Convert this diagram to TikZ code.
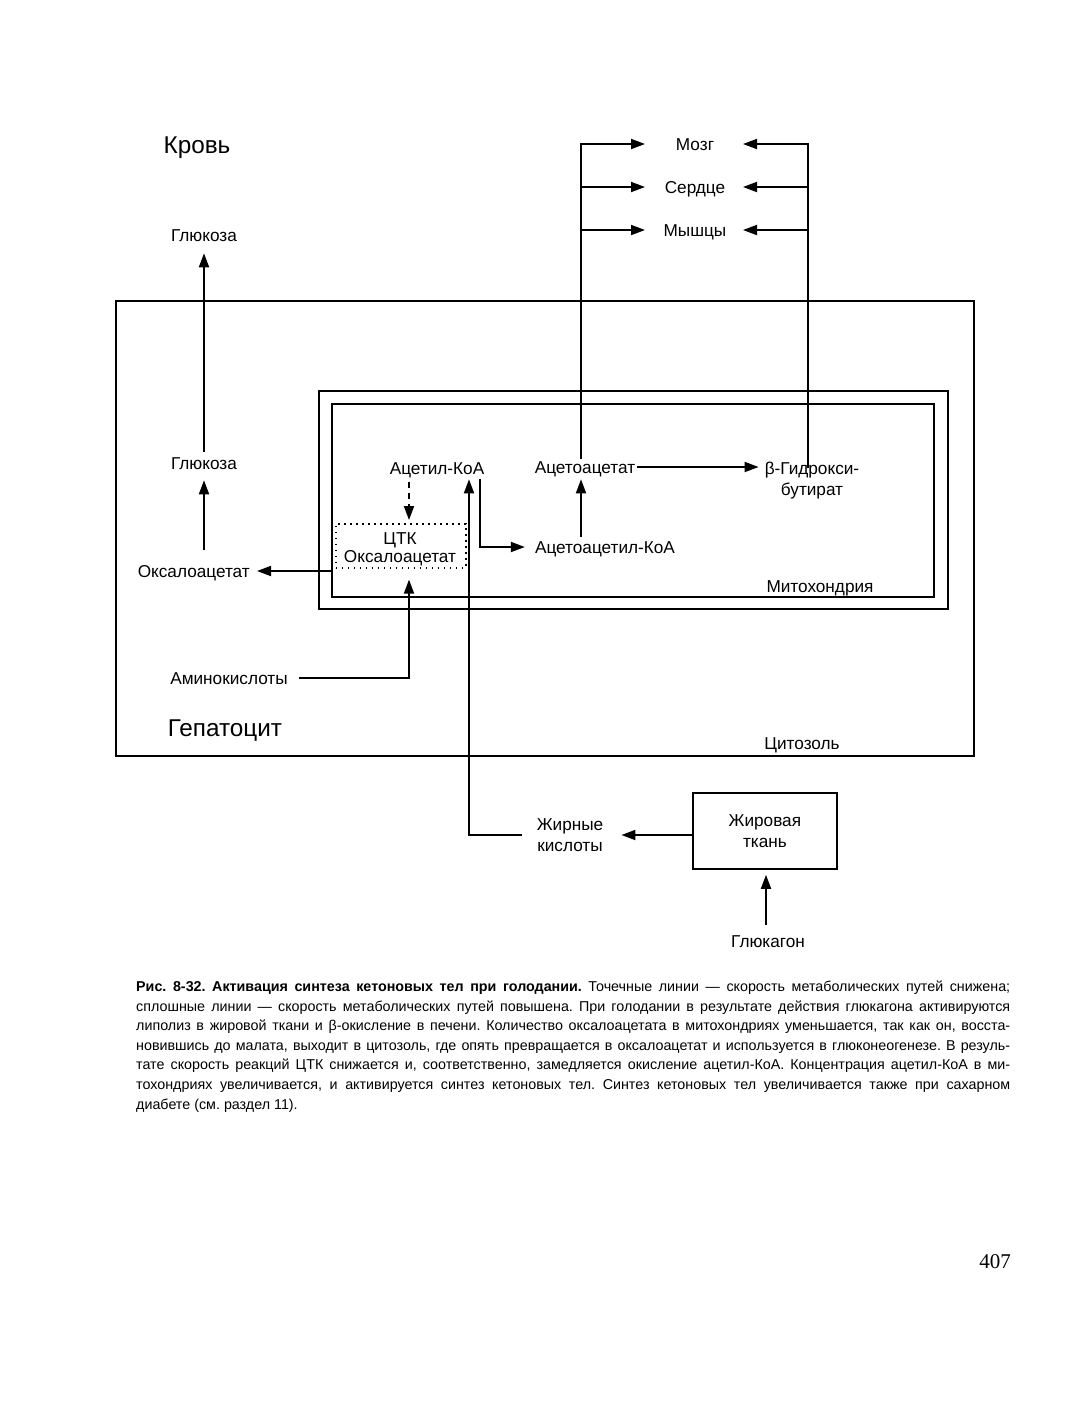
\documentclass[tikz,border=0pt]{standalone}
\usepackage{fontspec}
\setmainfont{Liberation Sans}
\newfontfamily\seriffont{Liberation Serif}
\usetikzlibrary{arrows.meta}
\frenchspacing
\begin{document}
\begin{tikzpicture}[x=1pt,y=1pt,
  lbl/.style={font=\fontsize{17.2}{21}\selectfont, inner sep=2pt, text height=12.2pt, text depth=0pt},
  lbltwo/.style={font=\fontsize{17.2}{21}\selectfont, inner sep=2pt, align=center},
  big/.style={font=\fontsize{24.3}{28}\selectfont, inner sep=0pt},
  arr/.style={line width=1.8pt, -{Triangle[length=14pt,width=10pt]}},
  box/.style={draw, line width=1.8pt, inner sep=0pt},
  captext/.style={font=\fontsize{14.3}{17}\selectfont, inner sep=0pt},
  ]
\useasboundingbox (0,0) rectangle (1077,-1409);
\fill[white] (0,0) rectangle (1077,-1409);

% compartments
\node[box, minimum width=858pt, minimum height=455pt, anchor=north west] (hep) at (115,-300) {};
\node[box, minimum width=629pt, minimum height=218pt, anchor=north west] (mitoOut) at (318,-390) {};
\node[box, minimum width=602pt, minimum height=193pt, anchor=north west] (mitoIn) at (331,-403) {};
\node[draw, line width=1.6pt, dash pattern=on 1.6pt off 4.4pt, minimum width=130pt, minimum height=44pt,
  anchor=north west, inner sep=0pt] (tca) at (335,-523) {};
\node[lbl, anchor=base] (tcaA) at (400,-544) {ЦТК};
\node[lbl, anchor=base] (tcaB) at (400,-562) {Оксалоацетат};
\node[box, minimum width=144pt, minimum height=76pt, anchor=north west, align=center,
  font=\fontsize{17.2}{21}\selectfont] (adip) at (692,-792) {Жировая\\ткань};

% labels
\node[big] (blood) at (197,-148) {Кровь};
\node[lbl] (glu1) at (204,-235) {Глюкоза};
\node[lbl] (glu2) at (204,-463) {Глюкоза};
\node[lbl, anchor=east] (oxa) at (252,-571) {Оксалоацетат};
\node[lbl] (acCoA) at (437,-468) {Ацетил-КоА};
\node[lbl] (acac) at (585,-467) {Ацетоацетат};
\node[lbltwo] (bhb) at (812,-481) {β-Гидрокси-\\бутират};
\node[lbl] (acacCoA) at (605,-547) {Ацетоацетил-КоА};
\node[lbl] (mozg) at (695,-144) {Мозг};
\node[lbl] (serdce) at (695,-187) {Сердце};
\node[lbl] (myshcy) at (695,-230) {Мышцы};
\node[lbl, anchor=base] (mito) at (820,-592) {Митохондрия};
\node[lbl] (amino) at (229,-678) {Аминокислоты};
\node[big] (hepl) at (225,-731) {Гепатоцит};
\node[lbl] (cyto) at (802,-743) {Цитозоль};
\node[lbltwo] (fa) at (570,-835) {Жирные\\кислоты};
\node[lbl] (glucagon) at (768,-941) {Глюкагон};

% helper coordinates
\coordinate (Lx) at (581,0);
\coordinate (Rx) at (808,0);
\coordinate (Lt) at (645,0);
\coordinate (Rt) at (743,0);
\coordinate (Dx) at (409,0);
\coordinate (Ax) at (480,0);
\coordinate (Fx) at (469,0);
\coordinate (Gx) at (766,0);

% connectors
\draw[arr, shorten <=3pt, shorten >=10pt] (glu2.north) -- (glu1.south);
\draw[arr, shorten <=13pt, shorten >=9pt] (oxa.north -| glu2) -- (glu2.south);
\draw[arr, shorten >=5pt] (mitoIn.west |- oxa) -- (oxa.east);
\draw[arr, dash pattern=on 6pt off 5pt, shorten <=6pt, shorten >=3pt] (acCoA.south -| Dx) -- (tca.north -| Dx);
\draw[arr, shorten <=9pt, shorten >=11pt] (amino.east) -| (tca.south -| Dx);
\draw[arr, shorten <=13pt, shorten >=3pt] (fa.west) -| (acCoA.south -| Fx);
\draw[arr, shorten <=3pt, shorten >=8pt] (acCoA.south -| Ax) |- (acacCoA.west);
\draw[arr, shorten <=2pt, shorten >=4pt] (acacCoA.north -| Lx) -- (acac.south -| Lx);
\draw[arr, shorten >=4pt] (acac.east) -- (bhb.west |- acac);
\draw[arr] (acac.north -| Lx) |- (Lt |- mozg);
\draw[arr] (Lx |- serdce) -- (Lt |- serdce);
\draw[arr] (Lx |- myshcy) -- (Lt |- myshcy);
\draw[arr, shorten <=-8pt] (bhb.north -| Rx) |- (Rt |- mozg);
\draw[arr] (Rx |- serdce) -- (Rt |- serdce);
\draw[arr] (Rx |- myshcy) -- (Rt |- myshcy);
\draw[arr, shorten <=8pt, shorten >=5pt] (glucagon.north -| Gx) -- (adip.south -| Gx);
\draw[arr, shorten >=16pt] (adip.west |- fa) -- (fa.east);

% caption
\node[captext, anchor=base west] (c1) at (136,-991.7) {\makebox[874pt][s]{{\bfseries Рис. 8-32. Активация синтеза кетоновых тел при голодании.} Точечные линии — скорость метаболических путей снижена;}};
\node[captext, anchor=base west] (c2) at (136,-1011.25) {\makebox[874pt][s]{сплошные линии — скорость метаболических путей повышена. При голодании в результате действия глюкагона активируются}};
\node[captext, anchor=base west] (c3) at (136,-1030.8) {\makebox[874pt][s]{липолиз в жировой ткани и β-окисление в печени. Количество оксалоацетата в митохондриях уменьшается, так как он, восста-}};
\node[captext, anchor=base west] (c4) at (136,-1050.35) {\makebox[874pt][s]{новившись до малата, выходит в цитозоль, где опять превращается в оксалоацетат и используется в глюконеогенезе. В резуль-}};
\node[captext, anchor=base west] (c5) at (136,-1069.9) {\makebox[874pt][s]{тате скорость реакций ЦТК снижается и, соответственно, замедляется окисление ацетил-КоА. Концентрация ацетил-КоА в ми-}};
\node[captext, anchor=base west] (c6) at (136,-1089.45) {\makebox[874pt][s]{тохондриях увеличивается, и активируется синтез кетоновых тел. Синтез кетоновых тел увеличивается также при сахарном}};
\node[captext, anchor=base west] (c7) at (136,-1109) {диабете (см. раздел 11).};

\node[font=\seriffont\fontsize{21}{24}\selectfont, inner sep=0pt, anchor=base] (pg) at (995,-1268) {407};
\end{tikzpicture}
\end{document}
